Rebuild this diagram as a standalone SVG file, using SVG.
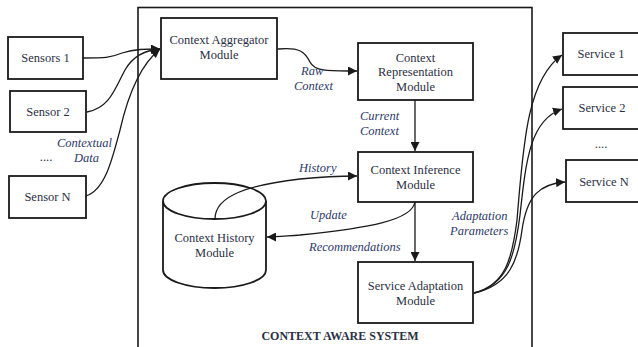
<svg xmlns="http://www.w3.org/2000/svg" width="638" height="347" viewBox="0 0 638 347">
  <defs>
    <marker id="arrow" viewBox="0 0 10 10" refX="10" refY="5" markerWidth="9" markerHeight="9" markerUnits="userSpaceOnUse" orient="auto">
      <path d="M0,0 L10,5 L0,10 Z" fill="#1a1a1a"/>
    </marker>
  </defs>
  <style>
    .box { fill: #ffffff; stroke: #1a1a1a; stroke-width: 1.8; }
    .sys { fill: none; stroke: #1a1a1a; stroke-width: 1.6; }
    .node-text { font-family: "Liberation Serif", "Times New Roman", serif; font-size: 12.5px; fill: #2b2f45; text-anchor: middle; }
    .label { font-family: "Liberation Serif", "Times New Roman", serif; font-size: 12.5px; font-style: italic; fill: #2d3a6b; }
    .conn { fill: none; stroke: #1a1a1a; stroke-width: 1.3; }
    .title { font-family: "Liberation Serif", "Times New Roman", serif; font-size: 12px; font-weight: bold; fill: #2b2f45; text-anchor: middle; }
  </style>
  <rect width="638" height="347" fill="#ffffff"/>

  <!-- system boundary -->
  <rect class="sys" x="138" y="7.5" width="394" height="345"/>
  <text class="title" x="340" y="340">CONTEXT AWARE SYSTEM</text>

  <!-- sensors -->
  <g id="sensor1">
    <rect class="box" x="8" y="37" width="75" height="42"/>
    <text class="node-text" x="45.5" y="62">Sensors 1</text>
  </g>
  <g id="sensor2">
    <rect class="box" x="10" y="91" width="76" height="41"/>
    <text class="node-text" x="48" y="116">Sensor 2</text>
  </g>
  <g id="sensor-dots">
    <text class="node-text" x="46" y="161" fill="#555">....</text>
  </g>
  <g id="sensorN">
    <rect class="box" x="9" y="176" width="77" height="42"/>
    <text class="node-text" x="47.5" y="201">Sensor N</text>
  </g>

  <!-- internal modules -->
  <g id="aggregator">
    <rect class="box" x="161" y="18" width="116" height="61"/>
    <text class="node-text" x="219" y="44">Context Aggregator</text>
    <text class="node-text" x="219" y="58.5">Module</text>
  </g>
  <g id="representation">
    <rect class="box" x="358" y="43" width="115" height="57"/>
    <text class="node-text" x="415.5" y="61.5">Context</text>
    <text class="node-text" x="415.5" y="76">Representation</text>
    <text class="node-text" x="415.5" y="90.5">Module</text>
  </g>
  <g id="inference">
    <rect class="box" x="358" y="152" width="115" height="50"/>
    <text class="node-text" x="415.5" y="174">Context Inference</text>
    <text class="node-text" x="415.5" y="188.5">Module</text>
  </g>
  <g id="adaptation">
    <rect class="box" x="358" y="262" width="115" height="61"/>
    <text class="node-text" x="415.5" y="290">Service Adaptation</text>
    <text class="node-text" x="415.5" y="304.5">Module</text>
  </g>
  <g id="history">
    <path class="box" d="M163,201 L163,270 A51.5,18 0 0 0 266,270 L266,201"/>
    <ellipse class="box" cx="214.5" cy="201" rx="51.5" ry="18"/>
    <text class="node-text" x="214.5" y="242">Context History</text>
    <text class="node-text" x="214.5" y="256.5">Module</text>
  </g>

  <!-- services -->
  <g id="service1">
    <rect class="box" x="563" y="33" width="80" height="42"/>
    <text class="node-text" x="601" y="58">Service 1</text>
  </g>
  <g id="service2">
    <rect class="box" x="563" y="87" width="80" height="42"/>
    <text class="node-text" x="602" y="112">Service 2</text>
  </g>
  <g id="service-dots">
    <text class="node-text" x="601" y="148" fill="#555">....</text>
  </g>
  <g id="serviceN">
    <rect class="box" x="566" y="160" width="80" height="42"/>
    <text class="node-text" x="604" y="186">Service N</text>
  </g>

  <!-- connectors -->
  <g id="connectors">
    <path class="conn" marker-end="url(#arrow)" d="M83,58 C105,58 110,58 122,53 C135,49 145,49 160,49"/>
    <path class="conn" marker-end="url(#arrow)" d="M87,112 C110,108 115,88 125,70 C133,56 145,50 160,49"/>
    <path class="conn" marker-end="url(#arrow)" d="M86,196 C105,190 112,160 120,130 C128,95 140,65 160,49"/>
    <path class="conn" marker-end="url(#arrow)" d="M278,49 C300,47 305,52 310,62 C315,72 330,71 357,71"/>
    <path class="conn" marker-end="url(#arrow)" d="M415,100 L415,151"/>
    <path class="conn" marker-end="url(#arrow)" d="M215,219 C215,195 250,185 300,179 C330,176 345,176 357,176"/>
    <path class="conn" marker-end="url(#arrow)" d="M415,202 C412,220 370,228 300,235 C285,236 276,237 267,237"/>
    <path class="conn" marker-end="url(#arrow)" d="M415,202 L415,261"/>
    <path class="conn" marker-end="url(#arrow)" d="M474,293 C505,285 512,260 517,220 C523,150 526,80 562,55"/>
    <path class="conn" marker-end="url(#arrow)" d="M474,293 C508,285 515,255 520,215 C526,160 530,120 562,109"/>
    <path class="conn" marker-end="url(#arrow)" d="M474,293 C510,285 518,260 522,230 C527,195 540,184 565,182"/>
  </g>

  <!-- connector labels -->
  <g id="labels">
    <text class="label" x="57" y="147">Contextual</text>
    <text class="label" x="74" y="161.5">Data</text>
    <text class="label" x="301" y="75">Raw</text>
    <text class="label" x="294" y="89.5">Context</text>
    <text class="label" x="360" y="120">Current</text>
    <text class="label" x="360" y="134.5">Context</text>
    <text class="label" x="299" y="172">History</text>
    <text class="label" x="310" y="219">Update</text>
    <text class="label" x="309" y="251">Recommendations</text>
    <text class="label" x="452" y="220">Adaptation</text>
    <text class="label" x="450" y="234.5">Parameters</text>
  </g>
</svg>
